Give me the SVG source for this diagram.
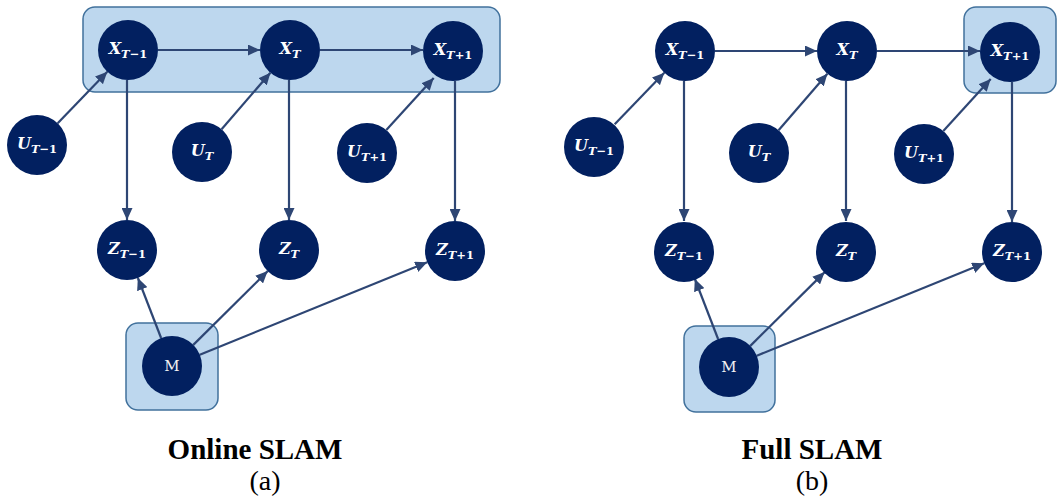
<svg xmlns="http://www.w3.org/2000/svg" width="1057" height="499" viewBox="0 0 1057 499">
  <style>
    .hl { fill: #BDD7EE; stroke: #41719C; stroke-width: 1.5; }
    .node circle { fill: #022060; }
    .lbl { font-family: "DejaVu Serif", "Liberation Serif", serif; font-weight: bold; font-style: italic; font-size: 16px; fill: #FFFFFF; text-anchor: middle; }
    .sub { font-size: 11.5px; }
    .up { font-style: normal; }
    .m { font-family: "DejaVu Serif", "Liberation Serif", serif; font-size: 15px; fill: #F2F2F2; text-anchor: middle; }
    .edge { stroke: #2E4674; stroke-width: 2.2; fill: none; marker-end: url(#arrow); }
    .cap { font-family: "Liberation Serif", "Times New Roman", serif; fill: #000000; text-anchor: middle; }
  </style>
  <defs>
    <marker id="arrow" markerUnits="userSpaceOnUse" markerWidth="13" markerHeight="11" refX="12" refY="5.5" orient="auto">
      <path d="M0,0 L12,5.5 L0,11 Z" fill="#2E4674"/>
    </marker>
  </defs>

  <rect width="1057" height="499" fill="#FFFFFF"/>

  <!-- (a) Online SLAM -->
  <g id="online">
    <rect id="a-belief" class="hl" x="83" y="7" width="417" height="85" rx="12"/>
    <rect id="a-map" class="hl" x="126" y="323" width="92" height="87" rx="12"/>

    <g id="a-edges">
      <line class="edge" x1="158" y1="50" x2="260" y2="50"/>
      <line class="edge" x1="320" y1="50" x2="423" y2="50"/>
      <line class="edge" x1="57.7" y1="123.3" x2="107.3" y2="71.7"/>
      <line class="edge" x1="221.6" y1="129.3" x2="270.4" y2="72.7"/>
      <line class="edge" x1="386.3" y1="130.1" x2="433.7" y2="78.1"/>
      <line class="edge" x1="127" y1="80" x2="127" y2="220"/>
      <line class="edge" x1="289" y1="80" x2="289" y2="220"/>
      <line class="edge" x1="455" y1="81" x2="455" y2="221"/>
      <line class="edge" x1="161.1" y1="338" x2="137.9" y2="278"/>
      <line class="edge" x1="193.3" y1="344.9" x2="267.7" y2="271.1"/>
      <line class="edge" x1="199.8" y1="354.7" x2="427.2" y2="262.3"/>
    </g>

    <g id="a-x1" class="node"><circle cx="128" cy="50" r="30"/>
      <text class="lbl" x="128" y="54">X<tspan class="sub" dy="4">T</tspan><tspan class="sub up">−1</tspan></text></g>
    <g id="a-x2" class="node"><circle cx="290" cy="50" r="30"/>
      <text class="lbl" x="290" y="54">X<tspan class="sub" dy="4">T</tspan></text></g>
    <g id="a-x3" class="node"><circle cx="453" cy="51" r="30"/>
      <text class="lbl" x="453" y="55">X<tspan class="sub" dy="4">T</tspan><tspan class="sub up">+1</tspan></text></g>

    <g id="a-u1" class="node"><circle cx="37" cy="145" r="30"/>
      <text class="lbl" x="37" y="149">U<tspan class="sub" dy="4">T</tspan><tspan class="sub up">−1</tspan></text></g>
    <g id="a-u2" class="node"><circle cx="202" cy="152" r="30"/>
      <text class="lbl" x="202" y="156">U<tspan class="sub" dy="4">T</tspan></text></g>
    <g id="a-u3" class="node"><circle cx="367" cy="153" r="30"/>
      <text class="lbl" x="367" y="157">U<tspan class="sub" dy="4">T</tspan><tspan class="sub up">+1</tspan></text></g>

    <g id="a-z1" class="node"><circle cx="127" cy="250" r="30"/>
      <text class="lbl" x="127" y="254">Z<tspan class="sub" dy="4">T</tspan><tspan class="sub up">−1</tspan></text></g>
    <g id="a-z2" class="node"><circle cx="289" cy="250" r="30"/>
      <text class="lbl" x="289" y="254">Z<tspan class="sub" dy="4">T</tspan></text></g>
    <g id="a-z3" class="node"><circle cx="455" cy="251" r="30"/>
      <text class="lbl" x="455" y="255">Z<tspan class="sub" dy="4">T</tspan><tspan class="sub up">+1</tspan></text></g>

    <g id="a-m" class="node"><circle cx="172" cy="366" r="30"/>
      <text class="m" x="172" y="371">M</text></g>

    <text class="cap" x="255" y="459" font-size="29" font-weight="bold">Online SLAM</text>
    <text class="cap" x="265" y="490" font-size="28">(a)</text>
  </g>

  <!-- (b) Full SLAM -->
  <g id="full" transform="translate(557,1)">
    <rect id="b-belief" class="hl" x="407" y="6" width="92" height="86" rx="12"/>
    <rect id="b-map" class="hl" x="127" y="325" width="91" height="86" rx="12"/>

    <g id="b-edges">
      <line class="edge" x1="158" y1="50" x2="260" y2="50"/>
      <line class="edge" x1="320" y1="50" x2="423" y2="50"/>
      <line class="edge" x1="57.7" y1="123.3" x2="107.3" y2="71.7"/>
      <line class="edge" x1="221.6" y1="129.3" x2="270.4" y2="72.7"/>
      <line class="edge" x1="386.3" y1="130.1" x2="433.7" y2="78.1"/>
      <line class="edge" x1="127" y1="80" x2="127" y2="220"/>
      <line class="edge" x1="289" y1="80" x2="289" y2="220"/>
      <line class="edge" x1="455" y1="81" x2="455" y2="221"/>
      <line class="edge" x1="161.1" y1="338" x2="137.9" y2="278"/>
      <line class="edge" x1="193.3" y1="344.9" x2="267.7" y2="271.1"/>
      <line class="edge" x1="199.8" y1="354.7" x2="427.2" y2="262.3"/>
    </g>

    <g id="b-x1" class="node"><circle cx="128" cy="50" r="30"/>
      <text class="lbl" x="128" y="54">X<tspan class="sub" dy="4">T</tspan><tspan class="sub up">−1</tspan></text></g>
    <g id="b-x2" class="node"><circle cx="290" cy="50" r="30"/>
      <text class="lbl" x="290" y="54">X<tspan class="sub" dy="4">T</tspan></text></g>
    <g id="b-x3" class="node"><circle cx="453" cy="51" r="30"/>
      <text class="lbl" x="453" y="55">X<tspan class="sub" dy="4">T</tspan><tspan class="sub up">+1</tspan></text></g>

    <g id="b-u1" class="node"><circle cx="37" cy="146" r="30"/>
      <text class="lbl" x="37" y="150">U<tspan class="sub" dy="4">T</tspan><tspan class="sub up">−1</tspan></text></g>
    <g id="b-u2" class="node"><circle cx="202" cy="152" r="30"/>
      <text class="lbl" x="202" y="156">U<tspan class="sub" dy="4">T</tspan></text></g>
    <g id="b-u3" class="node"><circle cx="367" cy="153" r="30"/>
      <text class="lbl" x="367" y="157">U<tspan class="sub" dy="4">T</tspan><tspan class="sub up">+1</tspan></text></g>

    <g id="b-z1" class="node"><circle cx="127" cy="251" r="30"/>
      <text class="lbl" x="127" y="255">Z<tspan class="sub" dy="4">T</tspan><tspan class="sub up">−1</tspan></text></g>
    <g id="b-z2" class="node"><circle cx="289" cy="251" r="30"/>
      <text class="lbl" x="289" y="255">Z<tspan class="sub" dy="4">T</tspan></text></g>
    <g id="b-z3" class="node"><circle cx="455" cy="251" r="30"/>
      <text class="lbl" x="455" y="255">Z<tspan class="sub" dy="4">T</tspan><tspan class="sub up">+1</tspan></text></g>

    <g id="b-m" class="node"><circle cx="172" cy="366" r="30"/>
      <text class="m" x="172" y="371">M</text></g>

    <text class="cap" x="255" y="458" font-size="29" font-weight="bold">Full SLAM</text>
    <text class="cap" x="255" y="489" font-size="28">(b)</text>
  </g>
</svg>
